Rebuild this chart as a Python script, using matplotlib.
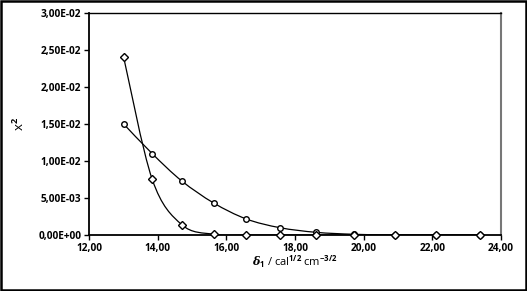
import numpy as np
import matplotlib
matplotlib.use("Agg")
import matplotlib.pyplot as plt
from matplotlib.path import Path
from matplotlib.patches import PathPatch, Rectangle

# data
delta1 = [13.01, 13.84, 14.70, 15.63, 16.58, 17.56, 18.62, 19.71, 20.90, 22.10, 23.39]
x2_a = [0.0240, 0.00753, 0.00140, 0.00010, 0.0, 0.0, 0.0, 0.0, 0.0, 0.0, 0.0]
x2_b = [0.0150, 0.0110, 0.00731, 0.00433, 0.00217, 0.00099, 0.00036, 0.00010, 0.0, 0.0, 0.0]

xticks = [12, 14, 16, 18, 20, 22, 24]
xtick_labels = ["12,00", "14,00", "16,00", "18,00", "20,00", "22,00", "24,00"]
yticks = [0, 0.005, 0.010, 0.015, 0.020, 0.025, 0.030]
ytick_labels = ["0,00E+00", "5,00E-03", "1,00E-02", "1,50E-02", "2,00E-02", "2,50E-02", "3,00E-02"]

plt.rcParams['font.family'] = ['Open Sans', 'DejaVu Sans']
plt.rcParams['font.weight'] = 'bold'
plt.rcParams['mathtext.fontset'] = 'custom'
plt.rcParams['mathtext.rm'] = 'Open Sans:bold'
plt.rcParams['mathtext.it'] = 'DejaVu Serif:italic'


def smooth_path(xs, ys):
    # excel-like smoothed line: bezier segments through the points
    p = np.column_stack([xs, ys])
    verts = [p[0]]
    codes = [Path.MOVETO]
    n = len(p)
    for i in range(n - 1):
        p0 = p[i - 1] if i > 0 else p[i]
        p3 = p[i + 2] if i + 2 < n else p[i + 1]
        c1 = p[i] + (p[i + 1] - p0) / 6.0
        c2 = p[i + 1] - (p3 - p[i]) / 6.0
        verts += [c1, c2, p[i + 1]]
        codes += [Path.CURVE4] * 3
    return Path(verts, codes)


fig = plt.figure(figsize=(5.27, 2.91), dpi=100)
ax = fig.add_axes([0.1689, 0.1924, 0.7818, 0.7629])

for ys, mk in [(x2_b, 'o'), (x2_a, 'D')]:
    ax.add_patch(PathPatch(smooth_path(delta1, ys), fill=False, ec='black', lw=0.9))
    ax.plot(delta1, ys, ls='none', marker=mk, ms=4 if mk == 'o' else 3.6,
            mfc='white', mec='black', mew=1.0, clip_on=False, zorder=3)

ax.set_xlim(12, 24)
ax.set_ylim(0, 0.03)
ax.set_xticks(xticks)
ax.set_xticklabels(xtick_labels)
ax.set_yticks(yticks)
ax.set_yticklabels(ytick_labels)
ax.tick_params(direction='out', length=3.5, width=1, labelsize=7.3, pad=2)

for s in ['left', 'bottom']:
    ax.spines[s].set_linewidth(1.3)
ax.spines['top'].set_linewidth(1)
ax.spines['right'].set_linewidth(1.5)
ax.spines['right'].set_color('#777777')

ax.set_xlabel(r'$\mathit{\delta}_{\mathrm{1}}$ / cal$^{1/2}$ cm$^{-3/2}$', fontsize=8, labelpad=0)
ax.set_ylabel(r'x$^{\mathrm{2}}$', fontsize=9.5, labelpad=8)

# outer frame
fig.patches.append(Rectangle((0.002, 0.005), 0.996, 0.99, transform=fig.transFigure,
                             fill=False, ec='black', lw=1.8))

fig.savefig("out.png", dpi=100)
